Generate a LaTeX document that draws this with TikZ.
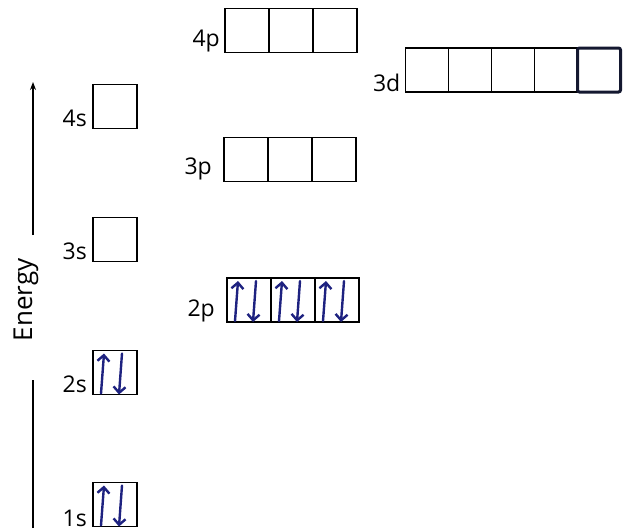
\documentclass[tikz,border=0pt]{standalone}
\usepackage{fontspec}
\setmainfont{Open Sans}
\usetikzlibrary{arrows.meta, positioning, calc}

\definecolor{penblue}{RGB}{30,34,128}
\definecolor{inkdark}{RGB}{20,24,48}

\tikzset{
  orb/.style={draw=black, line width=1.7pt, minimum width=44pt, minimum height=44pt, inner sep=0pt, outer sep=0pt},
  dorb/.style={orb, minimum width=43pt},
  lbl/.style={font=\fontsize{23}{24}\selectfont, inner sep=0pt, anchor=base east},
  spin/.style={draw=penblue, line width=2.4pt, line cap=round, -{Straight Barb[length=6pt,width=12pt]}},
}

% up and down electron in one box
\newcommand{\spinpair}[1]{%
  \draw[spin] ([xshift=-14pt,yshift=-21pt]#1.center) -- ([xshift=-11pt,yshift=19pt]#1.center);
  \draw[spin] ([xshift=7pt,yshift=19pt]#1.center) -- ([xshift=4pt,yshift=-22pt]#1.center);
}

\begin{document}
\begin{tikzpicture}[x=1pt, y=-1pt]
\useasboundingbox (0,0) rectangle (626,531);

% energy axis
\coordinate (ebot) at (33,528);
\coordinate (elow) at (33,380);
\coordinate (ehigh) at (33,235);
\coordinate (etop) at (33,82);
\node[font=\fontsize{26}{28}\selectfont, inner sep=0pt, rotate=90] (energy) at (26,300) {Energy};
\draw[line width=1.3pt] (ebot) -- (elow);
\draw[line width=1.3pt, -{Stealth[length=8pt,width=6pt]}] (ehigh) -- (etop);

% s orbitals
\node[orb] (s1) at (115,504.5) {};
\node[orb] (s2) at (115,372.5) {};
\node[orb] (s3) at (115,239.5) {};
\node[orb] (s4) at (115,106.5) {};
\node[lbl, left=6pt of s1.south west, anchor=base east] {1s};
\node[lbl, left=6pt of s2.south west, anchor=base east, yshift=2pt] {2s};
\node[lbl, left=6pt of s3.south west, anchor=base east, yshift=2pt] {3s};
\node[lbl, left=6pt of s4.south west, anchor=base east, yshift=2pt] {4s};

% 2p
\node[orb] (p2a) at (249,300) {};
\node[orb, right=0pt of p2a] (p2b) {};
\node[orb, right=0pt of p2b] (p2c) {};
\node[lbl, left=12pt of p2a.south west, anchor=base east, yshift=6pt] {2p};

% 3p
\node[orb] (p3a) at (246,159.5) {};
\node[orb, right=0pt of p3a] (p3b) {};
\node[orb, right=0pt of p3b] (p3c) {};
\node[lbl, left=12pt of p3a.south west, anchor=base east, yshift=7pt] {3p};

% 4p
\node[orb] (p4a) at (247,30.5) {};
\node[orb, right=0pt of p4a] (p4b) {};
\node[orb, right=0pt of p4b] (p4c) {};
\node[lbl, left=5pt of p4a.south west, anchor=base east, yshift=6pt] {4p};

% 3d
\node[dorb] (d1) at (427,70) {};
\node[dorb, right=0pt of d1] (d2) {};
\node[dorb, right=0pt of d2] (d3) {};
\node[dorb, right=0pt of d3] (d4) {};
\node[dorb, right=0pt of d4, draw=inkdark, line width=3pt, rounded corners=2pt] (d5) {};
\node[lbl, left=5pt of d1.south west, anchor=base east, yshift=1pt] {3d};

% electrons
\spinpair{s1}
\spinpair{s2}
\spinpair{p2a}
\spinpair{p2b}
\spinpair{p2c}
\end{tikzpicture}
\end{document}
